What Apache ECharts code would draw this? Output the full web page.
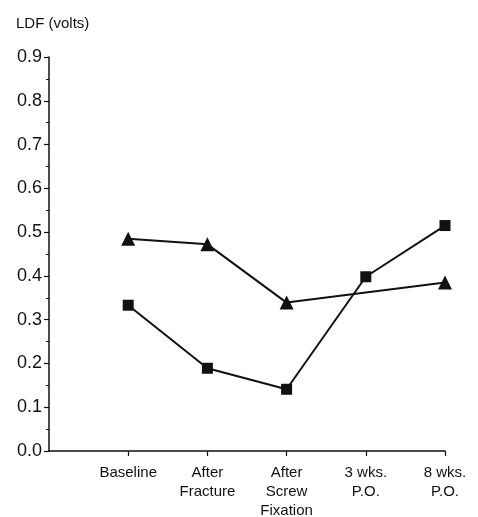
<!DOCTYPE html>
<html>
<head>
<meta charset="utf-8">
<script src="https://cdn.jsdelivr.net/npm/echarts@6/dist/echarts.min.js"></script>
<style>
  html, body { margin: 0; padding: 0; background: #fff; }
  #chart { width: 478px; height: 517px; }
</style>
</head>
<body>
<div id="chart"></div>
<script>
// 横轴类别（第一个留空，对应原点）
let categories = ['', 'Baseline', 'After\nFracture', 'After\nScrew\nFixation', '3 wks.\nP.O.', '8 wks.\nP.O.']
// 三角形系列（3周无数据）
let triangleValues = [null, 0.485, 0.472, 0.339, null, 0.385]
// 方形系列
let squareValues = [null, 0.333, 0.189, 0.141, 0.398, 0.515]
let yTicks = [0, 0.1, 0.2, 0.3, 0.4, 0.5, 0.6, 0.7, 0.8, 0.9]

let font = '"Liberation Sans", Arial, sans-serif'

let el = document.querySelector('#chart')
let chartInstance = echarts.init(el)

let chartOption = {
  backgroundColor: '#fff',
  animation: false,
  title: {
    text: 'LDF (volts)',
    left: 11,
    top: 11,
    textStyle: { fontFamily: font, fontSize: 15, fontWeight: 'normal', color: '#111' }
  },
  grid: { left: 49, right: 33, top: 57, bottom: 66, outerBoundsMode: 'none' },
  xAxis: {
    type: 'category',
    data: categories,
    boundaryGap: false,
    axisLine: { lineStyle: { color: '#111', width: 1.5 } },
    axisTick: {
      length: 5,
      lineStyle: { color: '#111', width: 1.2 },
      interval: function (i) { return i > 0 }
    },
    axisLabel: {
      interval: 0,
      margin: 12,
      fontFamily: font,
      fontSize: 15,
      lineHeight: 19,
      color: '#111'
    },
    splitLine: { show: false }
  },
  yAxis: {
    type: 'value',
    min: 0,
    max: 0.9,
    interval: 0.1,
    axisLine: { show: true, lineStyle: { color: '#111', width: 1.5 } },
    axisTick: { show: true, length: 5, lineStyle: { color: '#111', width: 1.2 } },
    minorTick: { show: true, splitNumber: 2, length: 3, lineStyle: { color: '#111', width: 1 } },
    splitLine: { show: false },
    axisLabel: {
      margin: 7,
      fontFamily: font,
      fontSize: 18,
      color: '#111',
      formatter: function (v) {
        let t = yTicks.find(x => Math.abs(x - v) < 1e-6)
        return t !== undefined ? t.toFixed(1) : ''
      }
    }
  },
  series: [
    {
      name: 'triangle',
      type: 'line',
      data: triangleValues,
      connectNulls: true,
      symbol: 'triangle',
      symbolSize: 14,
      lineStyle: { color: '#111', width: 2 },
      itemStyle: { color: '#111' }
    },
    {
      name: 'square',
      type: 'line',
      data: squareValues,
      connectNulls: true,
      symbol: 'rect',
      symbolSize: 11,
      lineStyle: { color: '#111', width: 2 },
      itemStyle: { color: '#111' }
    }
  ]
}

chartInstance.setOption(chartOption)
</script>
</body>
</html>
